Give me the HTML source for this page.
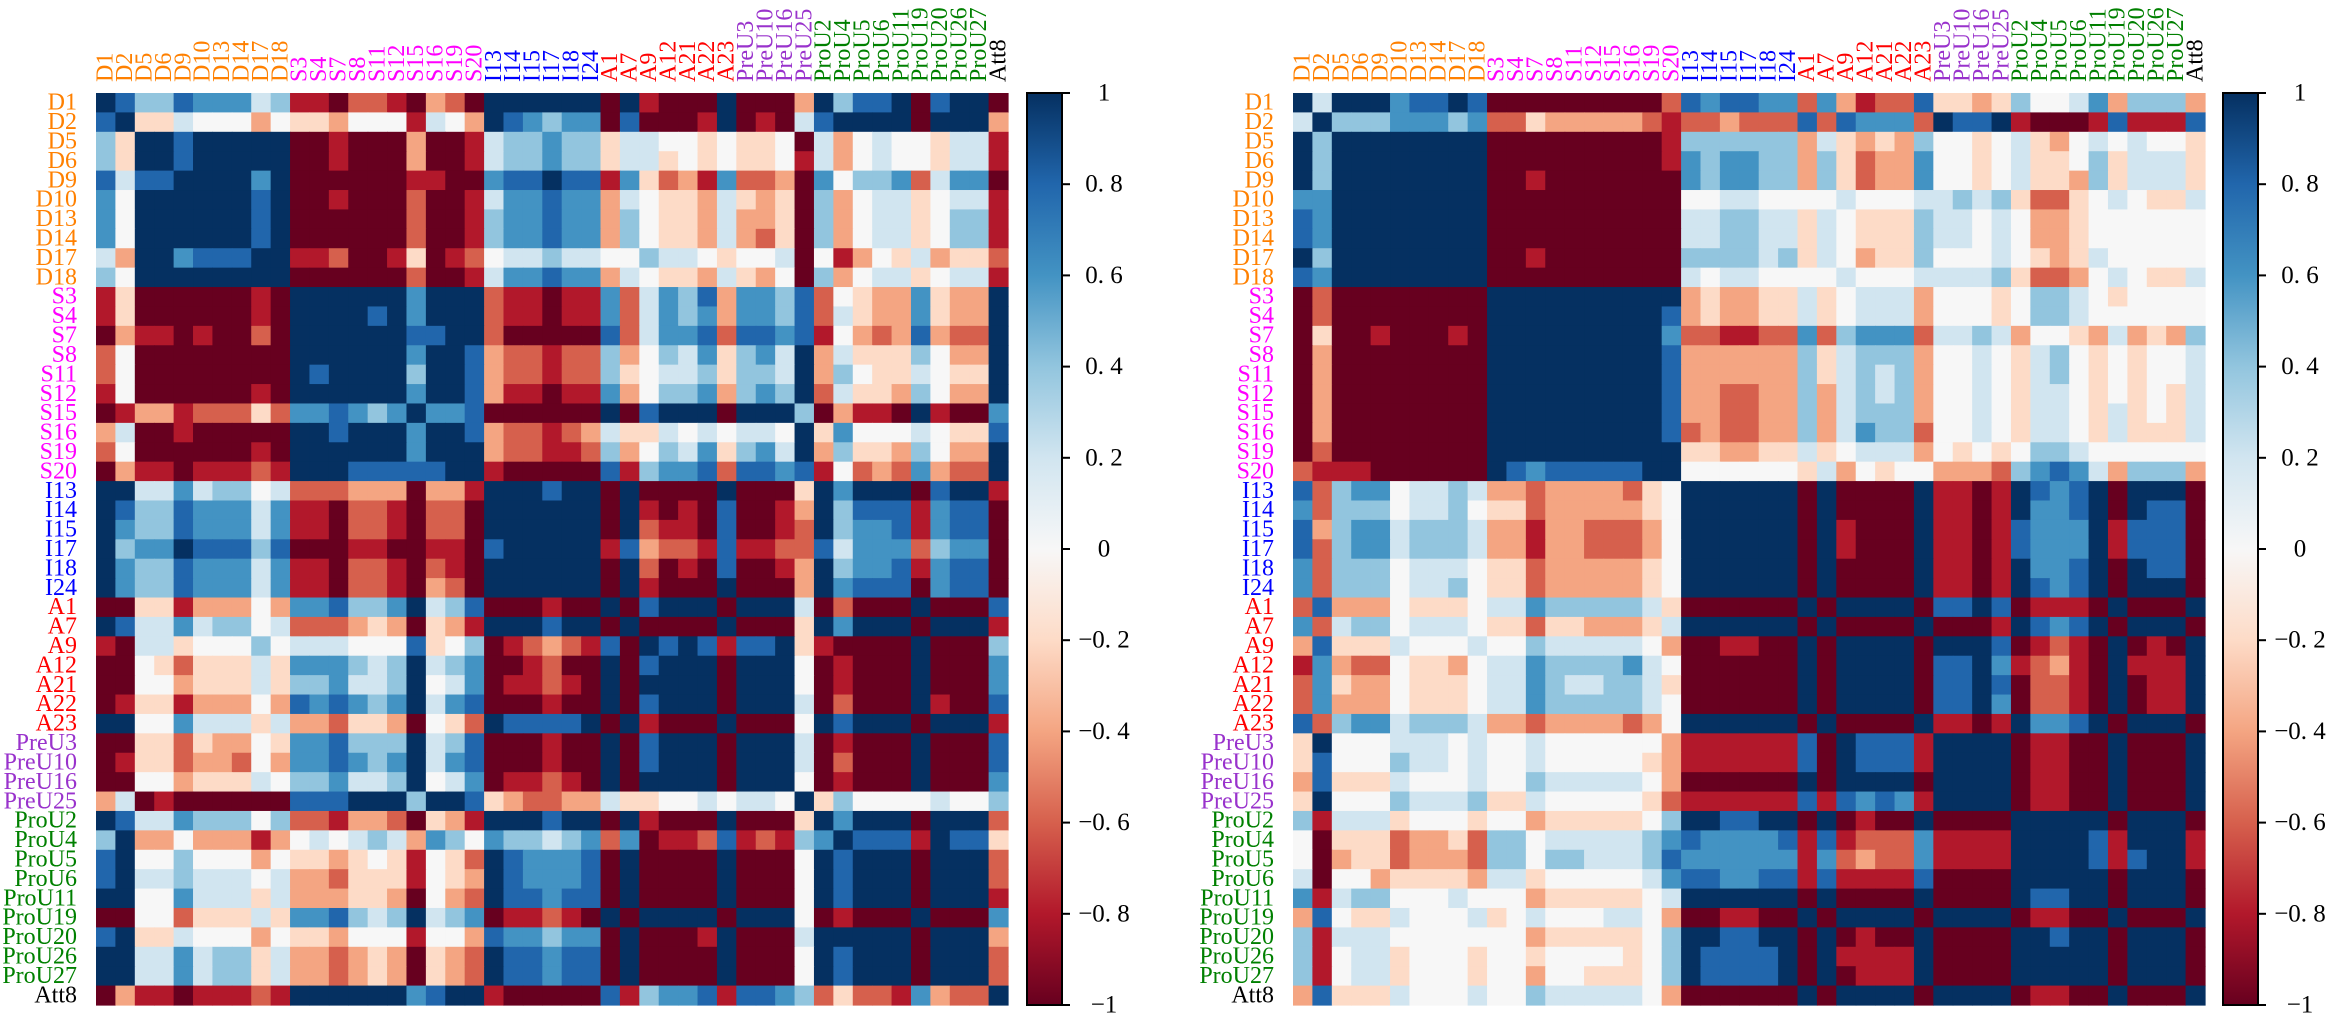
<!DOCTYPE html>
<html><head><meta charset="utf-8"><style>
html,body{margin:0;padding:0;background:#fff;width:2333px;height:1020px;overflow:hidden}
svg{display:block;font-family:"Liberation Serif","DejaVu Serif",serif}
</style></head><body>
<svg id="chart" width="2333" height="1020" viewBox="0 0 2333 1020" xmlns="http://www.w3.org/2000/svg">
<defs>
<linearGradient id="rdbu" x1="0" y1="1" x2="0" y2="0">
<stop offset="0" stop-color="#67001f"/><stop offset="0.1" stop-color="#b2182b"/><stop offset="0.2" stop-color="#d6604d"/><stop offset="0.3" stop-color="#f4a582"/><stop offset="0.4" stop-color="#fddbc7"/><stop offset="0.5" stop-color="#f7f7f7"/><stop offset="0.6" stop-color="#d1e5f0"/><stop offset="0.7" stop-color="#92c5de"/><stop offset="0.8" stop-color="#4393c3"/><stop offset="0.9" stop-color="#2166ac"/><stop offset="1" stop-color="#053061"/>
</linearGradient>
</defs>
</svg>
<script>
// Variable names (same for both matrices)
const variables = ["D1","D2","D5","D6","D9","D10","D13","D14","D17","D18",
"S3","S4","S7","S8","S11","S12","S15","S16","S19","S20",
"I13","I14","I15","I17","I18","I24",
"A1","A7","A9","A12","A21","A22","A23",
"PreU3","PreU10","PreU16","PreU25",
"ProU2","ProU4","ProU5","ProU6","ProU11","ProU19","ProU20","ProU26","ProU27","Att8"];
// Colorbar ticks
const cbTicks = [1,0.8,0.6,0.4,0.2,0,-0.2,-0.4,-0.6,-0.8,-1];
const cbTickLabels = ["1","0. 8","0. 6","0. 4","0. 2","0","\u22120. 2","\u22120. 4","\u22120. 6","\u22120. 8","\u22121"];
// Correlation levels: a=-1 b=-0.8 c=-0.6 d=-0.4 e=-0.2 f=0 g=0.2 h=0.4 i=0.6 j=0.8 k=1
// Lower-triangle rows (row i holds columns 0..i); matrices are symmetric.
const leftRows = [
"k","jk","hek","hekk","jgjjk","ifkkkk","ifkkkkk","ifkkkkkk","gdkkijjjk","hfkkkkkkkk",
"beaaaaaabak","beaaaaaabakk","adbbabaacakkk","cfaaaaaaaakkkk","cfaaaaaaaakjkkk","bfaaaaaabakkkkkk",
"abddbccceciijihik","dgaabaaaaakkjkkkik","cfaaaaaabakkkkkkikk","adbbabbbcbkkkjjjjjkk",
"kkggighhfgcccdddaddbk","kjhhjiiigibbaccbaccakk","kihhjiiigibbaccbaccakkk","khiikjjjhjaaabbaabbajkkk",
"kihhjiiigibbaccbacbakkkkk","kihhjiiigibbaccbadcakkkkkk",
"aaeebdddfdiijhhikghjaaabaak","kjggighhfgcccdedaedbkkkjkkak","baggefffhfgggfffjefhabcdcbjak",
"aafeceeegeiiihghkghiaabcaakajk","aaffdeeegehhigghkfgiabbcbakakkk","abeebdddfdjijihikgijaaabaakajkkk",
"kkffigggegddceedafeckjjjjkakbaaak",
"aaeeceddfeiijhhhkghjaaabaakajkkkak","abeecddcfdiijihikgijaaabaakajkkkakk","aaffdeeegfhhigghkfgiabbcbakakkkkakkk",
"dgabaaaaaajjjkkkhkkjedccddgeeffgfggfk",
"kjggihhhfhccbddcaedbkkkjkkakbaaakaaaek","hkddfdddbdfgfghgdihfihhghiciabbcjbcbhik",
"jkffhfffdfeedefebfeckjiiijakaaaakaaafkjk","jkgghgggfgddceeebfedkjiiijakaaaakaaafkjkk",
"kkffigggegdddeedafdckjjijjakaaaakaaafkjkkk","aaffceeegeiijhghkghiabbcbakakkkkakkkfabaaak",
"jkeegfffdfeedfffbffdjiihiiakaaabkaaagkkkkkak","kkggighhegddcdedaedckjjijjakaaaakaaafkjkkkakk",
"kkggighhegddcdedaedckjjijjakaaaakaaafkjkkkakkk","adbbabbbcbkkkkkkijkkbaaaaajbhiijbjjihceccbidcck"];
const rightRows = [
"k","gk","khk","khkk","khkkk","iikkkk","jikkkkk","jikkkkkk","khkkkkkkk","jikkkkkkkk",
"acaaaaaaaak","acaaaaaaaakk","aeaabaaabakkk","adaaaaaaaakkkk","adaaaaaaaakkkkk","adaaaaaaaakkkkkk",
"adaaaaaaaakkkkkkk","adaaaaaaaakkkkkkkk","acaaaaaaaakkkkkkkkk","cbbbaaaaaakjijjjjjkk",
"jchiifgghgddcddddcefk","ichhhfgghfeecdddddefkk","jdhiighhhgddbddcccdfkkk","jchiighhhgddbddcccdfkkkk",
"ichhhfgggfeecdddddefkkkkk","ichhhfgghfeecdddddefkkkkkk",
"cjdddfeeefggihhhhhgeaaaaaak","icghhfgggfeeceedddegkkkkkkak","djeeegfffgffhgggggfdaabbaakak",
"bidccfeedfggihhhhigfaaaaaakakk","cieddfeeefggihgghhgeaaaaaakakkk","cidddfeeefggihhhhhgfaaaaaakakkkk",
"jchiighhhgddcddddcdfkkkkkkakaaaak",
"ekfffgggfgffgffffffdbbbbbbjakjjjbk","ejfffhggfgffgfffffedbbbbbbjakjjjbkk","djeeegfffgffhgggggfdaaaaaakakkkkakkk",
"ekfffhgggheegfffffecbbbbbbjbjijibkkkk",
"hbgggefffeffdeeeeefhkkjjkkakabaakaaaak","faeeecddechhfggggghijiiiijbjbcccibbbbkk",
"fadeecdddchhfhhggghjiiiiiibicdccibbbbkkk","gaffdeeeedggefffffgijjiijjbjbbbbjaaaakkkk",
"ibghhfffgfffdeeeeefgkkkkkkakaaaakaaaakjjkk","djfeegfffgefgfffggfdaabbaakakkkkakkkkabbaak",
"hbgggfffffffdeeeeefhkkjjkkakabaakaaaakkjkkak","hbfggefffeffeffffefhkjjjjkakbbbbkaaaakkkkkakk",
"hbfggefffeffdffeeefhkjjjjkakabbbkaaaakkkkkakkk","djeeegfffgffhgggggfdaaaaaakakkkkakkkkabbaakaaak"];

const levelValue = {a:-1,b:-0.8,c:-0.6,d:-0.4,e:-0.2,f:0,g:0.2,h:0.4,i:0.6,j:0.8,k:1};
const stops = [[103,0,31],[178,24,43],[214,96,77],[244,165,130],[253,219,199],[247,247,247],[209,229,240],[146,197,222],[67,147,195],[33,102,172],[5,48,97]];
function rdbu(v){
  let t=(v+1)/2*10; t=Math.max(0,Math.min(10,t));
  const i=Math.min(9,Math.floor(t)), f=t-i, a=stops[i], b=stops[i+1];
  return `rgb(${Math.round(a[0]+(b[0]-a[0])*f)},${Math.round(a[1]+(b[1]-a[1])*f)},${Math.round(a[2]+(b[2]-a[2])*f)})`;
}
function labelColor(n){
  if(n.startsWith("PreU")) return "#9932cc";
  if(n.startsWith("ProU")) return "#008000";
  if(n.startsWith("Att")) return "#000000";
  if(n[0]==="D") return "#ff8000";
  if(n[0]==="S") return "#ff00ff";
  if(n[0]==="I") return "#0000ff";
  if(n[0]==="A") return "#ff0000";
  return "#000";
}
const NS="http://www.w3.org/2000/svg";
const svg=document.getElementById("chart");
function mk(tag,attrs,parent){const e=document.createElementNS(NS,tag);for(const k in attrs)e.setAttribute(k,attrs[k]);(parent||svg).appendChild(e);return e;}
function getVal(rows,r,c){return r>=c?levelValue[rows[r][c]]:levelValue[rows[c][r]];}

function drawPanel(rows,x0,y0,size,cbX,prefix){
  const n=variables.length, cell=size/n;
  const xs=i=>x0+i*cell, ys=i=>y0+i*cell;
  const g=mk("g",{});
  
  
  for(let r=0;r<n;r++)for(let c=0;c<n;c++){
    const v=getVal(rows,r,c);
    const rect=mk("rect",{x:xs(c).toFixed(2),y:ys(r).toFixed(2),width:(cell+0.6).toFixed(2),height:(cell+0.6).toFixed(2),fill:rdbu(v)},g);
    
    
  }
  // row labels
  for(let i=0;i<n;i++){
    const t=mk("text",{x:x0-19,y:ys(i)+cell/2,"text-anchor":"end","dominant-baseline":"central","font-size":"24",fill:labelColor(variables[i])});
    t.textContent=variables[i];
    
    
  }
  // column labels
  for(let i=0;i<n;i++){
    const cx=xs(i)+cell/2, cy=y0-11;
    const t=mk("text",{x:cx,y:cy,transform:`rotate(-90 ${cx} ${cy})`,"text-anchor":"start","dominant-baseline":"central","font-size":"24",fill:labelColor(variables[i])});
    t.textContent=variables[i];
    
    
  }
  // colorbar
  const cbW=35;
  const cb=mk("rect",{x:cbX,y:y0,width:cbW,height:size,fill:"url(#rdbu)",stroke:"#000","stroke-width":"2"});
  
  
  const cy=v=>y0+(1-v)/2*size;
  cbTicks.forEach((v,i)=>{
    const tk=mk("line",{x1:cbX+cbW,x2:cbX+cbW+8,y1:cy(v),y2:cy(v),stroke:"#000","stroke-width":"2"});
    
    
    const t=mk("text",{x:cbX+cbW+42,y:cy(v),"text-anchor":"middle","dominant-baseline":"central","font-size":"25",fill:"#000"});
    t.textContent=cbTickLabels[i];
    
    
  });
}
drawPanel(leftRows,96,93,912,1027,"left");
drawPanel(rightRows,1293,93,912,2223,"right");
</script>
</body></html>
